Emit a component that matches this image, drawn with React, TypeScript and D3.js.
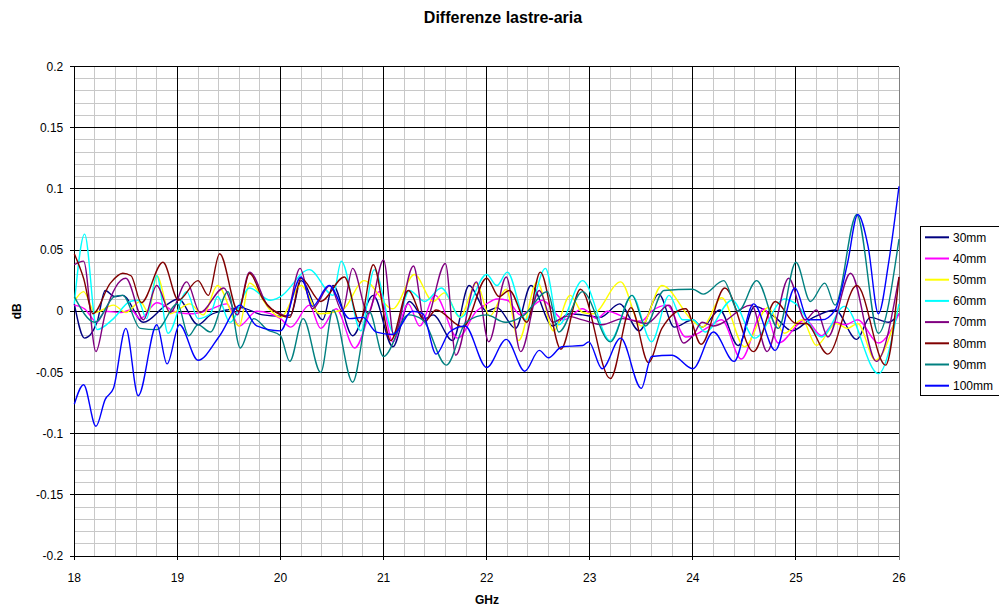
import * as d3 from 'd3';
import React, { useRef, useEffect } from 'react';

// values: [GHz, dB]
const s30: [number, number][] = [[18,0.006],[18.1,-0.022],[18.22,-0.009],[18.3,0.017],[18.39,0.012],[18.47,0.013],[18.67,-0.009],[18.89,0.005],[19.01,0.010],[19.2,-0.011],[19.32,-0.003],[19.48,0.001],[19.61,0.003],[19.83,-0.003],[20,-0.004],[20.1,-0.003],[20.2,0.025],[20.41,-0.007],[20.51,0.021],[20.7,-0.020],[20.9,0.013],[21.09,-0.029],[21.25,0.008],[21.4,-0.006],[21.48,-0.003],[21.67,-0.024],[21.83,0.021],[22,0.0],[22.1,0.003],[22.28,-0.014],[22.43,0.021],[22.64,-0.012],[22.8,-0.002],[22.93,-0.003],[23.1,-0.005],[23.29,0.006],[23.48,-0.016],[23.67,0.014],[23.82,-0.013],[24,-0.007],[24.09,-0.013],[24.26,0.001],[24.44,-0.028],[24.6,0.004],[24.8,-0.005],[24.96,-0.016],[25.15,-0.006],[25.38,0.001],[25.59,-0.023],[25.72,-0.005],[25.9,-0.009],[26,-0.002]];
const s40: [number, number][] = [[18,0.005],[18.1,0.002],[18.22,-0.009],[18.3,0],[18.45,-0.001],[18.55,0.001],[18.64,-0.006],[18.8,0.007],[19.0,-0.001],[19.15,-0.002],[19.3,0.001],[19.48,0.006],[19.6,-0.012],[19.77,0],[19.9,-0.002],[20,-0.006],[20.1,-0.013],[20.28,0.005],[20.39,-0.014],[20.54,0.002],[20.72,-0.030],[20.96,0.016],[21.09,-0.025],[21.24,0.006],[21.35,-0.012],[21.5,0.013],[21.72,-0.022],[21.9,0],[22,0.006],[22.1,0.010],[22.2,0.009],[22.33,-0.003],[22.54,0.009],[22.75,-0.007],[22.93,0.002],[23.07,-0.006],[23.17,0],[23.4,-0.007],[23.5,-0.008],[23.6,0],[23.75,0.005],[23.93,-0.021],[24,-0.020],[24.15,-0.013],[24.28,-0.007],[24.47,-0.039],[24.69,0.002],[24.83,-0.026],[25.09,-0.007],[25.25,-0.020],[25.38,-0.009],[25.48,-0.011],[25.6,-0.007],[25.8,-0.026],[26,-0.002]];
const s50: [number, number][] = [[18,0.008],[18.09,0.016],[18.2,-0.001],[18.38,0.005],[18.5,-0.001],[18.64,0.008],[18.72,-0.001],[18.8,0.029],[18.93,-0.002],[19.12,0.006],[19.25,-0.003],[19.39,0.021],[19.6,-0.012],[19.7,0.023],[19.9,0.001],[20,-0.005],[20.2,0.021],[20.38,-0.002],[20.6,0.001],[20.81,0.025],[21.09,0.002],[21.3,0.030],[21.48,0.008],[21.59,0.015],[21.74,-0.005],[21.9,0.023],[22.03,-0.004],[22.19,0.018],[22.31,-0.024],[22.49,0.024],[22.65,-0.016],[22.81,0.013],[22.93,-0.001],[23.03,-0.002],[23.3,0.024],[23.5,-0.012],[23.7,0.021],[24,-0.008],[24.09,-0.013],[24.28,0.011],[24.5,-0.029],[24.73,0.003],[24.89,-0.018],[25.06,-0.007],[25.2,-0.028],[25.39,-0.010],[25.5,-0.014],[25.6,-0.010],[25.77,-0.040],[26,0.004]];
const s60: [number, number][] = [[18,0.006],[18.1,0.063],[18.22,-0.015],[18.38,-0.006],[18.54,0.008],[18.62,0.009],[18.7,-0.006],[18.8,0.029],[18.91,-0.018],[19.09,0.016],[19.2,-0.006],[19.32,-0.002],[19.39,0.012],[19.51,-0.009],[19.7,0.019],[19.9,0.009],[20,0.012],[20.28,0.034],[20.51,0.013],[20.59,0.041],[20.78,-0.016],[20.91,0.034],[21.1,-0.018],[21.25,0.017],[21.4,0.008],[21.56,0.019],[21.75,-0.005],[22,0.030],[22.1,0.021],[22.2,0.032],[22.38,-0.007],[22.57,0.035],[22.7,-0.011],[22.93,0.025],[23.2,-0.024],[23.41,0.013],[23.6,-0.025],[23.77,0.013],[23.9,-0.007],[24,-0.007],[24.12,-0.017],[24.38,0.009],[24.6,-0.022],[24.89,0.010],[25.0,0.006],[25.25,-0.021],[25.47,0.004],[25.8,-0.051],[26,0.006]];
const s70: [number, number][] = [[18,0.038],[18.09,0.041],[18.21,-0.033],[18.3,-0.002],[18.5,0.027],[18.67,-0.007],[18.8,0.021],[18.93,-0.001],[19.09,0.024],[19.22,-0.001],[19.45,0.019],[19.58,-0.003],[19.7,0.032],[19.88,0.004],[20,-0.002],[20.05,-0.004],[20.19,0.035],[20.31,0.002],[20.48,0.021],[20.6,0.0],[20.7,0.035],[20.85,-0.002],[21.0,0.042],[21.1,-0.020],[21.29,0.037],[21.4,-0.009],[21.6,0.039],[21.7,-0.036],[21.9,0.024],[22.02,-0.025],[22.19,0.028],[22.33,-0.033],[22.51,0.017],[22.64,-0.009],[22.78,-0.004],[22.93,-0.007],[23.12,-0.011],[23.32,-0.006],[23.55,-0.010],[23.77,0.005],[23.91,-0.026],[24,-0.020],[24.09,-0.009],[24.2,-0.012],[24.57,0.005],[24.72,-0.033],[24.93,0.027],[25.09,-0.007],[25.2,0.001],[25.31,-0.021],[25.53,0.031],[25.78,-0.041],[26,0.028]];
const s80: [number, number][] = [[18,0.047],[18.09,0.027],[18.18,-0.002],[18.35,0.023],[18.47,0.031],[18.55,0.029],[18.65,0.007],[18.86,0.040],[19.01,0.009],[19.2,0.025],[19.3,0.013],[19.41,0.047],[19.59,0],[19.7,0.031],[19.83,0.010],[20,-0.003],[20.09,-0.005],[20.2,0.027],[20.39,0.008],[20.62,0.028],[20.77,-0.009],[20.9,0.038],[21.07,-0.024],[21.24,0.017],[21.4,-0.008],[21.51,0.001],[21.77,-0.013],[22,0.027],[22.12,0.012],[22.22,0.017],[22.39,-0.009],[22.52,0.032],[22.72,-0.031],[22.91,0.018],[23.2,-0.055],[23.4,0.003],[23.57,-0.042],[23.7,-0.014],[23.93,0.002],[24.08,-0.027],[24.31,0.019],[24.59,-0.033],[24.8,0.008],[25.0,-0.010],[25.1,-0.010],[25.31,-0.035],[25.59,0.021],[25.87,-0.044],[26,0.028]];
const s90: [number, number][] = [[18,0.012],[18.2,-0.009],[18.39,0.012],[18.47,0.013],[18.64,-0.014],[18.8,-0.015],[19.0,0.006],[19.11,-0.020],[19.2,-0.011],[19.32,-0.017],[19.49,0.016],[19.61,-0.030],[19.74,-0.006],[19.87,-0.015],[20,-0.020],[20.09,-0.041],[20.22,-0.006],[20.39,-0.050],[20.51,0.001],[20.7,-0.058],[20.86,0],[21.0,-0.037],[21.24,-0.003],[21.38,-0.007],[21.61,-0.044],[21.8,-0.009],[22,-0.003],[22.18,-0.009],[22.35,-0.004],[22.59,0.016],[22.7,-0.017],[22.93,0.016],[23.2,-0.025],[23.41,0.013],[23.54,-0.012],[23.72,0.017],[24,0.018],[24.1,0.014],[24.3,0.025],[24.44,0],[24.62,0.025],[24.83,-0.014],[25.0,0.040],[25.14,0.008],[25.28,0.023],[25.38,0.005],[25.59,0.079],[25.8,-0.018],[26,0.059]];
const s100: [number, number][] = [[18,-0.076],[18.09,-0.060],[18.21,-0.094],[18.3,-0.072],[18.38,-0.063],[18.5,-0.014],[18.62,-0.069],[18.8,-0.011],[18.9,-0.043],[19.02,-0.011],[19.2,-0.040],[19.41,-0.020],[19.61,0.005],[19.77,-0.012],[20,-0.016],[20.2,0.028],[20.31,0.004],[20.47,0.021],[20.67,-0.006],[20.8,-0.005],[20.93,-0.017],[21.09,-0.019],[21.28,0],[21.38,-0.002],[21.51,-0.035],[21.64,-0.017],[21.79,-0.012],[22,-0.046],[22.19,-0.023],[22.37,-0.049],[22.51,-0.032],[22.6,-0.038],[22.73,-0.029],[22.93,-0.028],[22.99,-0.025],[23.12,-0.047],[23.3,-0.022],[23.5,-0.063],[23.6,-0.037],[23.8,-0.036],[24,-0.047],[24.2,-0.017],[24.4,-0.041],[24.59,0.006],[24.8,-0.032],[24.99,0.019],[25.12,-0.007],[25.25,-0.007],[25.38,0.001],[25.5,0.039],[25.6,0.079],[25.7,0.053],[25.8,-0.002],[25.9,0.040],[26,0.102]];

const seriesNames = ['30mm', '40mm', '50mm', '60mm', '70mm', '80mm', '90mm', '100mm'];
const seriesColors = ['#000080', '#ff00ff', '#ffff00', '#00ffff', '#800080', '#800000', '#008080', '#0000ff'];
const seriesData = [s30, s40, s50, s60, s70, s80, s90, s100];

const xTicks = [18, 19, 20, 21, 22, 23, 24, 25, 26];
const yTicks = [0.2, 0.15, 0.1, 0.05, 0, -0.05, -0.1, -0.15, -0.2];

const FONT = '"Liberation Sans", Arial, sans-serif';

const App = ({ width = 999, height = 607 }) => {
  const ref = useRef(null);

  useEffect(() => {
    document.body.style.margin = '0';
    const svg = d3.select(ref.current);
    svg.selectAll('*').remove();

    const left = 74.3, right = 899, top = 66.5, bottom = 556;
    const x = d3.scaleLinear().domain([18, 26]).range([left, right]);
    const y = d3.scaleLinear().domain([-0.2, 0.2]).range([bottom, top]);

    svg.append('rect').attr('width', width).attr('height', height).attr('fill', '#fff');

    // minor grid
    const g = svg.append('g').attr('shape-rendering', 'crispEdges');
    g.selectAll('.vmin')
      .data(d3.range(18.2, 26, 0.2).filter(v => Math.abs(v - Math.round(v)) > 0.01))
      .enter().append('line')
      .attr('x1', d => x(d)).attr('x2', d => x(d))
      .attr('y1', top).attr('y2', bottom)
      .attr('stroke', '#c8c8c8');
    g.selectAll('.hmin')
      .data(d3.range(-0.19, 0.2, 0.01).filter(v => Math.abs(v * 20 - Math.round(v * 20)) > 0.01))
      .enter().append('line')
      .attr('x1', left).attr('x2', right)
      .attr('y1', d => y(d)).attr('y2', d => y(d))
      .attr('stroke', '#c8c8c8');

    // major grid
    g.selectAll('.vmaj').data(xTicks).enter().append('line')
      .attr('x1', d => x(d)).attr('x2', d => x(d))
      .attr('y1', top).attr('y2', bottom + 4)
      .attr('stroke', (d) => (d === 26 ? '#808080' : '#000'));
    g.selectAll('.hmaj').data(yTicks).enter().append('line')
      .attr('x1', left - 4).attr('x2', right)
      .attr('y1', d => y(d)).attr('y2', d => y(d))
      .attr('stroke', '#000');

    // series
    const line = d3.line<[number, number]>()
      .x(d => x(d[0]))
      .y(d => y(d[1]))
      .curve(d3.curveMonotoneX);

    svg.append('g').selectAll('path')
      .data(seriesData)
      .enter().append('path')
      .attr('d', d => line(d))
      .attr('fill', 'none')
      .attr('stroke', (_, i) => seriesColors[i])
      .attr('stroke-width', 1.4);

    // tick labels
    svg.append('g').selectAll('text').data(yTicks).enter().append('text')
      .attr('x', left - 11).attr('y', d => y(d))
      .attr('dy', '0.35em')
      .attr('text-anchor', 'end')
      .style('font', `12px ${FONT}`)
      .text(d => String(+d.toFixed(2)));
    svg.append('g').selectAll('text').data(xTicks).enter().append('text')
      .attr('x', d => x(d)).attr('y', 582)
      .attr('text-anchor', 'middle')
      .style('font', `12px ${FONT}`)
      .text(d => d);

    // titles
    svg.append('text').attr('x', 503).attr('y', 23)
      .attr('text-anchor', 'middle')
      .style('font', `bold 16px ${FONT}`)
      .text('Differenze lastre-aria');
    svg.append('text').attr('x', 487).attr('y', 604)
      .attr('text-anchor', 'middle')
      .style('font', `bold 12px ${FONT}`)
      .text('GHz');
    svg.append('text')
      .attr('transform', `translate(21, ${y(0)}) rotate(-90)`)
      .attr('text-anchor', 'middle')
      .style('font', `bold 12px ${FONT}`)
      .text('dB');

    // legend
    const lg = svg.append('g').attr('transform', 'translate(920, 226.5)');
    lg.append('rect').attr('width', 90).attr('height', 169)
      .attr('fill', '#fff').attr('stroke', '#000').attr('shape-rendering', 'crispEdges');
    const items = lg.selectAll('g.item').data(seriesNames).enter().append('g')
      .attr('transform', (_, i) => `translate(0, ${10.8 + i * 21.2})`);
    items.append('line').attr('x1', 5).attr('x2', 29)
      .attr('stroke', (_, i) => seriesColors[i]).attr('stroke-width', 2);
    items.append('text').attr('x', 33).attr('dy', '0.35em')
      .style('font', `12px ${FONT}`)
      .text(d => d);
  }, [width, height]);

  return <svg width={width} height={height} ref={ref} style={{ display: 'block' }} />;
};

export default App;
